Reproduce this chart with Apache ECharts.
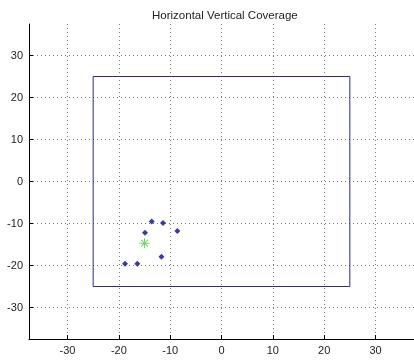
<!DOCTYPE html>
<html>
<head>
<meta charset="utf-8">
<script src="https://cdn.jsdelivr.net/npm/echarts@6/dist/echarts.min.js"></script>
<style>html,body{margin:0;padding:0;background:#fff}#c{width:414px;height:360px}</style>
</head>
<body>
<div id="c"></div>
<script>
const titleText = 'Horizontal Vertical Coverage';
const axisMin = -37.5;
const axisMax = 37.5;
const rectX = [-25, 25, 25, -25, -25];
const rectY = [25, 25, -25, -25, 25];
const pointsX = [-13.6, -11.4, -14.9, -8.6, -11.7, -18.8, -16.4];
const pointsY = [-9.5, -9.9, -12.2, -11.8, -17.9, -19.6, -19.6];
const centerX = [-15.0];
const centerY = [-14.7];

const chart = echarts.init(document.getElementById('c'), null, {renderer: 'canvas'});
const font = 'Liberation Sans, Arial, sans-serif';
function axis() {
  return {
    type: 'value', min: axisMin, max: axisMax, splitNumber: 8,
    axisLine: {show: true, onZero: false, lineStyle: {color: '#000', width: 1}},
    axisTick: {show: true, inside: true, length: 4, lineStyle: {color: '#000'}},
    axisLabel: {color: '#222', fontSize: 11, fontFamily: font, margin: 6, showMinLabel: false, showMaxLabel: false},
    splitLine: {show: true, showMinLine: false, showMaxLine: false, lineStyle: {color: '#777', type: [1, 3], width: 1}}
  };
}
const star = 'path://M4.5,0 L5.5,0 L5.5,10 L4.5,10 Z M0,4.5 L10,4.5 L10,5.5 L0,5.5 Z M1.2,1.9 L1.9,1.2 L8.8,8.1 L8.1,8.8 Z M8.1,1.2 L8.8,1.9 L1.9,8.8 L1.2,8.1 Z';
chart.setOption({
  animation: false,
  title: {text: titleText, left: 147, top: 5, textStyle: {fontSize: 11.5, fontWeight: 'normal', color: '#222', fontFamily: font}},
  grid: {left: 29, right: -2, top: 24, bottom: 21, containLabel: false},
  xAxis: axis(),
  yAxis: axis(),
  series: [
    {type: 'line', data: rectX.map((x, i) => [x, rectY[i]]), symbol: 'none', lineStyle: {color: '#2c2c88', width: 1}},
    {type: 'scatter', data: pointsX.map((x, i) => [x, pointsY[i]]), symbol: 'diamond', symbolSize: 6, itemStyle: {color: '#0a0a8c'}},
    {type: 'scatter', data: centerX.map((x, i) => [x, centerY[i]]), symbol: star, symbolSize: 10, itemStyle: {color: '#44d044'}}
  ]
});
</script>
</body>
</html>
